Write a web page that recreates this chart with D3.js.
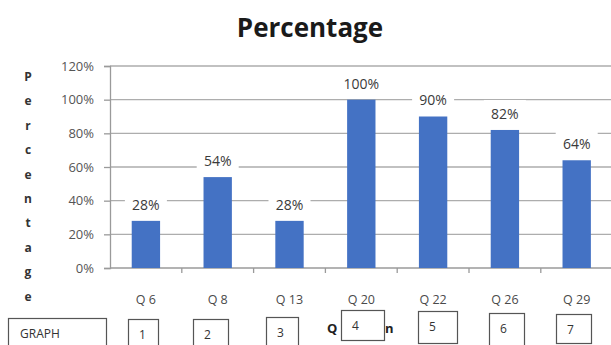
<!DOCTYPE html>
<html>
<head>
<meta charset="utf-8">
<script src="https://cdn.jsdelivr.net/npm/d3@7/dist/d3.min.js"></script>
<style>
  html, body { margin: 0; padding: 0; background: #fff; }
  svg { display: block; }
</style>
</head>
<body>
<svg id="chart" width="611" height="345"></svg>
<script>
// Questions and the share answered for each
const questions = ["Q 6", "Q 8", "Q 13", "Q 20", "Q 22", "Q 26", "Q 29"];
const percentages = [0.28, 0.54, 0.28, 1.00, 0.90, 0.82, 0.64];
const yTicks = [0, 0.2, 0.4, 0.6, 0.8, 1.0, 1.2];
const chartTitle = "Percentage";
const yTitle = "Percentage";

// Numbered boxes along the bottom of the sheet
const boxLabels = ["GRAPH", "1", "2", "3", "4", "5", "6", "7"];
const boxLayout = [
  { x: 8,   y: 318, w: 98, h: 40 },
  { x: 128, y: 319, w: 30, h: 40 },
  { x: 193, y: 319, w: 35, h: 40 },
  { x: 266, y: 317, w: 32, h: 40 },
  { x: 341, y: 310, w: 43, h: 30 },
  { x: 418, y: 311, w: 39, h: 32 },
  { x: 489, y: 313, w: 35, h: 40 },
  { x: 556, y: 314, w: 35, h: 29 }
];

const FONT = "'Open Sans', 'Liberation Sans', sans-serif";
const svg = d3.select("#chart");
const plot = { left: 110, right: 612.6, top: 66, bottom: 268 };

const x = d3.scaleBand()
  .domain(questions)
  .range([plot.left, plot.right])
  .paddingInner(0.605)
  .paddingOuter(0.3025);

const y = d3.scaleLinear()
  .domain([0, 1.2])
  .range([plot.bottom, plot.top]);

// Title
svg.append("text")
  .attr("x", 310).attr("y", 37)
  .attr("text-anchor", "middle")
  .attr("font-family", FONT)
  .attr("font-weight", "bold")
  .attr("font-size", 26)
  .attr("fill", "#1a1a1a")
  .text(chartTitle);

// Horizontal gridlines
svg.append("g")
  .selectAll("line")
  .data(yTicks.filter(d => d > 0))
  .join("line")
  .attr("x1", plot.left).attr("x2", 611)
  .attr("y1", d => y(d)).attr("y2", d => y(d))
  .attr("stroke", "#adadad")
  .attr("stroke-width", 1.3);

// Y axis
const yAxis = svg.append("g")
  .attr("transform", `translate(${plot.left},0)`)
  .call(d3.axisLeft(y).tickValues(yTicks).tickFormat(d3.format(".0%")).tickSize(6).tickPadding(10));
yAxis.select(".domain").attr("stroke", "#9a9a9a").attr("stroke-width", 1.3);
yAxis.selectAll(".tick line").attr("stroke", "#9a9a9a").attr("stroke-width", 1.3);
yAxis.selectAll(".tick text")
  .attr("font-family", FONT).attr("font-size", 13).attr("fill", "#555");

// X axis baseline and ticks between categories
svg.append("line")
  .attr("x1", plot.left).attr("x2", 611)
  .attr("y1", y(0)).attr("y2", y(0))
  .attr("stroke", "#9a9a9a").attr("stroke-width", 1.3);
const step = x.step();
svg.append("g")
  .selectAll("line")
  .data(d3.range(1, questions.length + 1))
  .join("line")
  .attr("x1", i => plot.left + i * step).attr("x2", i => plot.left + i * step)
  .attr("y1", y(0)).attr("y2", y(0) + 5)
  .attr("stroke", "#9a9a9a").attr("stroke-width", 1.3);

// Category labels
svg.append("g")
  .selectAll("text")
  .data(questions)
  .join("text")
  .attr("x", d => x(d) + x.bandwidth() / 2)
  .attr("y", 304)
  .attr("text-anchor", "middle")
  .attr("font-family", FONT).attr("font-size", 12.5).attr("fill", "#4a4a4a")
  .text(d => d);

// Bars
const rows = questions.map((q, i) => ({ q, v: percentages[i] }));
svg.append("g")
  .selectAll("rect")
  .data(rows)
  .join("rect")
  .attr("x", d => x(d.q))
  .attr("y", d => y(d.v))
  .attr("width", x.bandwidth())
  .attr("height", d => y(0) - y(d.v))
  .attr("fill", "#4472C4");

// Value labels on a white backing
const labels = svg.append("g")
  .selectAll("g")
  .data(rows)
  .join("g")
  .attr("transform", d => `translate(${x(d.q) + x.bandwidth() / 2},${y(d.v) - 16})`);
const fmt = d3.format(".0%");
labels.append("rect")
  .attr("x", -21).attr("width", 42)
  .attr("y", -14).attr("height", 23)
  .attr("fill", "#fff");
labels.append("text")
  .attr("text-anchor", "middle")
  .attr("dy", "0.35em")
  .attr("font-family", FONT).attr("font-size", 14).attr("fill", "#3a3a3a")
  .text(d => fmt(d.v));

// Vertical axis title, one letter per line
const yt = svg.append("text")
  .attr("font-family", FONT).attr("font-weight", "bold")
  .attr("font-size", 12).attr("fill", "#333")
  .attr("text-anchor", "middle");
yt.selectAll("tspan")
  .data(yTitle.split(""))
  .join("tspan")
  .attr("x", 28)
  .attr("y", (d, i) => 81 + i * 24.4)
  .text(d => d);

// Boxes along the bottom
const boxes = svg.append("g")
  .selectAll("g")
  .data(boxLabels.map((t, i) => ({ t, ...boxLayout[i] })))
  .join("g");
boxes.append("rect")
  .attr("x", d => d.x + 0.5).attr("y", d => d.y + 0.5)
  .attr("width", d => d.w).attr("height", d => d.h)
  .attr("fill", "#fff").attr("stroke", "#555").attr("stroke-width", 1.2);
boxes.append("text")
  .attr("x", d => d.x + (d.t === "GRAPH" ? 12 : 11))
  .attr("y", d => d.y + 20)
  .attr("font-family", FONT).attr("font-size", 12).attr("fill", "#333")
  .text(d => d.t);

// Stray letters around box 4
svg.append("text").attr("x", 327).attr("y", 333)
  .attr("font-family", FONT).attr("font-weight", "bold").attr("font-size", 13).attr("fill", "#222")
  .text("Q");
svg.append("text").attr("x", 385).attr("y", 333)
  .attr("font-family", FONT).attr("font-weight", "bold").attr("font-size", 13).attr("fill", "#222")
  .text("n");
</script>
</body>
</html>
